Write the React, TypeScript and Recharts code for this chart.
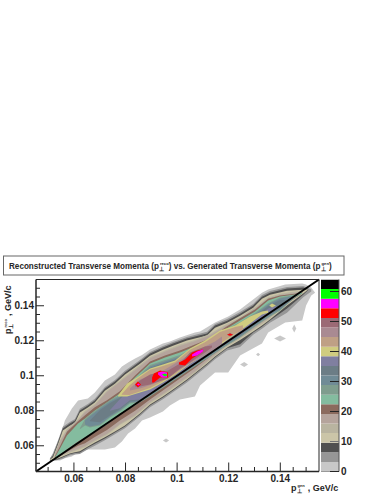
import React from "react";
import { ComposedChart, BarChart, Bar, Area, XAxis, YAxis, ReferenceLine } from "recharts";

type Row = [number, number, number];

const title = ["Reconstructed Transverse Momenta (p", "reco", ") vs. Generated Transverse Momenta (p", "gen", ")"];
const xTicks = [0.05, 0.055, 0.06, 0.065, 0.07, 0.075, 0.08, 0.085, 0.09, 0.095, 0.1, 0.105, 0.11, 0.115, 0.12, 0.125, 0.13, 0.135, 0.14, 0.145, 0.15];
const majorTicks = [0.06, 0.08, 0.1, 0.12, 0.14];
const zTicks = [0, 10, 20, 30, 40, 50, 60];
const palette = ["#c8c8c8", "#969696", "#505050", "#cbc5a8", "#b9b4a0", "#b5a49c", "#8b6b5e", "#84bc9f", "#7f9d8e", "#708b96", "#6c7d86", "#807fa0", "#d0cc80", "#bfa085", "#a98a92", "#9b6a75", "#ff0000", "#ff00ff", "#00ff00", "#000000"];
const zCell = 3.2;

// each row: generated pT, lower reconstructed pT, upper reconstructed pT
const level0: Row[] = [[0.0507,0.0516,0.0522],[0.0526,0.0516,0.0585],[0.0546,0.0516,0.0653],[0.0565,0.0528,0.0745],[0.0592,0.0539,0.0813],[0.0616,0.0562,0.0859],[0.0654,0.0579,0.087],[0.0681,0.0579,0.0904],[0.072,0.0579,0.0973],[0.0759,0.059,0.1007],[0.0786,0.0625,0.1053],[0.081,0.067,0.1076],[0.0837,0.0699,0.1099],[0.0864,0.0745,0.1118],[0.0895,0.0762,0.115],[0.0945,0.0796,0.1184],[0.0972,0.083,0.1196],[0.1011,0.0864,0.1219],[0.1069,0.0882,0.1247],[0.1089,0.0944,0.1253],[0.1147,0.1019,0.1304],[0.1198,0.1019,0.1338],[0.1244,0.1116,0.1378],[0.1329,0.1184,0.1475],[0.1353,0.1247,0.1493],[0.1419,0.1304,0.1521],[0.1485,0.1316,0.1527],[0.15,0.1401,0.1521],[0.152,0.1458,0.1504],[0.1535,0.1475,0.1475]];
const island0a: Row[] = [[0.0945,0.063,0.063],[0.0957,0.0618,0.0642],[0.0969,0.063,0.063]];
const island0b: Row[] = [[0.1244,0.1064,0.1064],[0.126,0.105,0.1078],[0.1275,0.1064,0.1064]];
const island0c: Row[] = [[0.1306,0.1121,0.1121],[0.1314,0.1111,0.1131],[0.1322,0.1121,0.1121]];
const island0d: Row[] = [[0.1376,0.1213,0.1213],[0.1399,0.1196,0.123],[0.1422,0.1213,0.1213]];
const island0e: Row[] = [[0.1446,0.127,0.127],[0.1454,0.1247,0.1293],[0.1462,0.127,0.127]];
const level1: Row[] = [[0.0507,0.0511,0.0528],[0.0519,0.0515,0.0554],[0.0538,0.0518,0.0628],[0.0557,0.0526,0.0708],[0.0584,0.0544,0.0736],[0.0604,0.055,0.0753],[0.0623,0.0553,0.0811],[0.0654,0.058,0.0839],[0.0681,0.06,0.0868],[0.072,0.0632,0.0936],[0.0759,0.0666,0.0976],[0.0798,0.07,0.1028],[0.0856,0.0768,0.109],[0.0895,0.082,0.1136],[0.0945,0.0866,0.117],[0.0984,0.0906,0.1193],[0.1038,0.0962,0.1222],[0.1116,0.1055,0.1251],[0.1147,0.1095,0.1296],[0.1194,0.1145,0.1324],[0.1244,0.1165,0.1364],[0.1295,0.1235,0.141],[0.1329,0.1268,0.1461],[0.136,0.1303,0.1484],[0.1426,0.136,0.1507],[0.1489,0.1448,0.1513],[0.152,0.1482,0.1495]];
const level2: Row[] = [[0.0507,0.0514,0.0522],[0.0519,0.0519,0.0545],[0.0538,0.0523,0.0619],[0.0557,0.0534,0.0699],[0.0584,0.0551,0.0727],[0.0604,0.0558,0.0744],[0.0623,0.0562,0.0802],[0.0654,0.059,0.083],[0.0681,0.0612,0.0859],[0.072,0.0642,0.0927],[0.0759,0.0676,0.0967],[0.0798,0.071,0.1019],[0.0856,0.0779,0.1081],[0.0895,0.083,0.1127],[0.0945,0.0876,0.1161],[0.0984,0.0916,0.1184],[0.1038,0.0973,0.1213],[0.1116,0.1064,0.1242],[0.1147,0.1104,0.1287],[0.1194,0.1157,0.1315],[0.1244,0.118,0.1355],[0.1295,0.1247,0.1401],[0.1329,0.128,0.1452],[0.136,0.1316,0.1475],[0.1426,0.1385,0.1498],[0.1489,0.1463,0.1504],[0.1508,0.149,0.1496]];
const level3: Row[] = [[0.0507,0.0516,0.052],[0.0519,0.0522,0.0535],[0.0538,0.0527,0.0607],[0.0557,0.0539,0.0687],[0.0584,0.0556,0.0715],[0.0604,0.0563,0.0732],[0.0623,0.0568,0.079],[0.0654,0.0596,0.0818],[0.0681,0.0619,0.0847],[0.072,0.0648,0.0915],[0.0759,0.0682,0.0955],[0.0798,0.0716,0.1007],[0.0856,0.0785,0.1069],[0.0895,0.0836,0.1115],[0.0945,0.0882,0.1149],[0.0984,0.0922,0.1172],[0.1038,0.0979,0.1201],[0.1116,0.107,0.123],[0.1147,0.111,0.1275],[0.1194,0.1162,0.1303],[0.1244,0.1205,0.1343],[0.1295,0.1253,0.1389],[0.1329,0.1287,0.144],[0.136,0.1322,0.1463],[0.1426,0.1402,0.1486],[0.1489,0.147,0.1492],[0.1508,0.1493,0.1494]];
const level4: Row[] = [[0.0526,0.0525,0.0556],[0.0546,0.0538,0.0631],[0.0573,0.0555,0.0695],[0.0616,0.0577,0.0752],[0.0643,0.0592,0.08],[0.0681,0.0626,0.0839],[0.0728,0.0661,0.0915],[0.0778,0.0718,0.0972],[0.0837,0.0769,0.104],[0.0895,0.0843,0.1107],[0.0953,0.0897,0.1145],[0.1011,0.0957,0.1178],[0.1069,0.1017,0.1205],[0.1128,0.1092,0.124],[0.1186,0.116,0.129],[0.1244,0.1212,0.1335],[0.1302,0.1268,0.1392],[0.1353,0.132,0.1449],[0.1399,0.1376,0.1469],[0.1457,0.1442,0.1481],[0.1485,0.1468,0.1484]];
const level5: Row[] = [[0.0526,0.0526,0.0548],[0.0546,0.0543,0.0623],[0.0573,0.0562,0.0687],[0.0616,0.0584,0.0744],[0.0643,0.0599,0.0792],[0.0681,0.0633,0.0831],[0.0728,0.0668,0.0907],[0.0778,0.0725,0.0964],[0.0837,0.0776,0.1032],[0.0895,0.085,0.1099],[0.0953,0.0904,0.1137],[0.1011,0.0964,0.117],[0.1069,0.1024,0.1197],[0.1128,0.1099,0.1232],[0.1186,0.1166,0.1282],[0.1244,0.1218,0.1327],[0.1302,0.1275,0.1384],[0.1353,0.1327,0.1441],[0.1399,0.1382,0.1461],[0.1457,0.1444,0.1473],[0.1485,0.1469,0.1476]];
const level6: Row[] = [[0.0526,0.0527,0.0538],[0.0546,0.0542,0.0597],[0.0573,0.0566,0.068],[0.0616,0.06,0.074],[0.0643,0.0615,0.0775],[0.0681,0.065,0.082],[0.0728,0.069,0.086],[0.0778,0.0745,0.0911],[0.0837,0.08,0.1002],[0.0895,0.0865,0.1082],[0.0953,0.0925,0.1116],[0.1011,0.0985,0.1145],[0.1069,0.1045,0.1179],[0.1128,0.111,0.1213],[0.1186,0.117,0.1276],[0.1244,0.1222,0.1328],[0.1302,0.1284,0.1379],[0.1353,0.1335,0.144],[0.1399,0.1386,0.1458],[0.1457,0.1445,0.1469],[0.1485,0.147,0.1477]];
const level7: Row[] = [[0.0526,0.0528,0.0533],[0.0546,0.0545,0.0585],[0.0573,0.0579,0.0659],[0.0616,0.0625,0.0727],[0.0643,0.0648,0.0756],[0.0681,0.0682,0.0802],[0.0728,0.0722,0.0847],[0.0778,0.0785,0.0899],[0.0837,0.083,0.099],[0.0895,0.0893,0.107],[0.0953,0.095,0.1104],[0.1011,0.1007,0.1133],[0.1069,0.1064,0.1167],[0.1128,0.1121,0.1201],[0.1186,0.1179,0.1264],[0.1244,0.123,0.1316],[0.1302,0.1293,0.1367],[0.1353,0.1344,0.143],[0.1399,0.139,0.1453],[0.1457,0.1447,0.1464],[0.1485,0.147,0.1476]];
const level8: Row[] = [[0.0623,0.0695,0.07],[0.0643,0.0716,0.0753],[0.0662,0.0704,0.0776],[0.0701,0.0716,0.0821],[0.074,0.0761,0.0861],[0.0778,0.0796,0.089],[0.0817,0.0841,0.0953],[0.0856,0.0847,0.1004],[0.0895,0.0881,0.1061],[0.0953,0.0938,0.109],[0.1011,0.0996,0.1118],[0.1069,0.1053,0.1164],[0.1128,0.111,0.1198],[0.1186,0.1167,0.1261],[0.1244,0.1218,0.1306],[0.1302,0.1281,0.1358],[0.1353,0.1332,0.1415],[0.1399,0.1372,0.1447],[0.1457,0.1449,0.1461],[0.147,0.1462,0.1463]];
const level9: Row[] = [[0.0643,0.0722,0.0745],[0.0662,0.071,0.0768],[0.0701,0.0722,0.0813],[0.074,0.0767,0.0853],[0.0778,0.0802,0.0882],[0.0817,0.0847,0.0945],[0.0856,0.0853,0.0996],[0.0895,0.0887,0.1053],[0.0953,0.0944,0.1082],[0.1011,0.1002,0.111],[0.1069,0.1059,0.1156],[0.1128,0.1116,0.119],[0.1186,0.1173,0.1253],[0.1244,0.1224,0.1298],[0.1302,0.1287,0.135],[0.1353,0.1338,0.1407],[0.1399,0.1378,0.1441],[0.1457,0.1452,0.1458]];
const level10: Row[] = [[0.0662,0.074,0.0745],[0.0701,0.0735,0.0805],[0.074,0.0773,0.0845],[0.0778,0.0808,0.0874],[0.0817,0.0853,0.0937],[0.0856,0.0859,0.0988],[0.0895,0.0893,0.1045],[0.0953,0.095,0.1074],[0.1011,0.1008,0.1102],[0.1069,0.1065,0.1148],[0.1128,0.1122,0.1182],[0.1186,0.1179,0.1245],[0.1244,0.123,0.129],[0.1302,0.1293,0.1342],[0.1353,0.1344,0.1399],[0.1399,0.1384,0.1433],[0.144,0.143,0.1432]];
const level11: Row[] = [[0.074,0.08,0.0805],[0.0778,0.0815,0.0866],[0.0817,0.086,0.0925],[0.0856,0.0865,0.0978],[0.0895,0.0899,0.1035],[0.0953,0.0956,0.1064],[0.1011,0.1014,0.1092],[0.1069,0.1071,0.1138],[0.1128,0.1128,0.1172],[0.1186,0.1185,0.1235],[0.1244,0.1236,0.128],[0.1302,0.13,0.1332],[0.1353,0.135,0.1385],[0.1385,0.1385,0.14]];
const level12: Row[] = [[0.0771,0.0882,0.0887],[0.0806,0.0882,0.0956],[0.0844,0.0899,0.099],[0.0895,0.0922,0.1042],[0.0945,0.0962,0.1064],[0.0992,0.1004,0.1087],[0.105,0.1068,0.1156],[0.1108,0.1118,0.1201],[0.1166,0.1175,0.1258],[0.1225,0.1236,0.1287],[0.1283,0.1299,0.1338],[0.1329,0.135,0.1367],[0.1353,0.136,0.1373]];
const island12: Row[] = [[0.1357,0.1401,0.1401],[0.1368,0.139,0.1413],[0.1383,0.1401,0.1401]];
const level13: Row[] = [[0.0785,0.0892,0.0895],[0.0815,0.089,0.0945],[0.0844,0.0905,0.0982],[0.0895,0.093,0.1034],[0.0945,0.0968,0.1056],[0.0992,0.101,0.1079],[0.105,0.1074,0.1148],[0.1108,0.1124,0.1192],[0.1166,0.1183,0.125],[0.1225,0.124,0.1278],[0.1255,0.1262,0.1288]];
const level14: Row[] = [[0.0817,0.0916,0.0927],[0.0856,0.0927,0.0979],[0.0903,0.095,0.1007],[0.0953,0.0984,0.1036],[0.1011,0.1036,0.1087],[0.1069,0.1087,0.1139],[0.1108,0.1116,0.1167],[0.1147,0.115,0.1196],[0.1174,0.1184,0.1224]];
const level15: Row[] = [[0.0837,0.0939,0.095],[0.0856,0.0939,0.0973],[0.0895,0.095,0.1007],[0.0965,0.0984,0.103],[0.1011,0.1041,0.107],[0.105,0.1076,0.1133],[0.1108,0.1133,0.1167],[0.1135,0.1162,0.1173]];
const spot15: Row[] = [[0.1194,0.1235,0.1235],[0.1205,0.1224,0.1246],[0.1217,0.1235,0.1235]];
const redA: Row[] = [[0.0837,0.095,0.095],[0.0848,0.0933,0.0967],[0.086,0.095,0.095]];
const redB: Row[] = [[0.0903,0.0962,0.099],[0.091,0.0962,0.1013],[0.0934,0.099,0.103],[0.0965,0.099,0.1019]];
const redC: Row[] = [[0.1007,0.1064,0.1076],[0.1031,0.1059,0.1093],[0.1058,0.1099,0.1133],[0.1077,0.1116,0.1144],[0.11,0.1139,0.115]];
const redD: Row[] = [[0.1194,0.1235,0.1235],[0.1205,0.1228,0.1242],[0.1217,0.1235,0.1235]];
const magentaA: Row[] = [[0.0844,0.095,0.095],[0.085,0.0944,0.0956],[0.0856,0.095,0.095]];
const magentaB: Row[] = [[0.0926,0.1007,0.1019],[0.0941,0.099,0.1024],[0.0961,0.099,0.1019]];
const magentaC: Row[] = [[0.1058,0.111,0.1121],[0.1077,0.1116,0.1139],[0.11,0.1139,0.115]];
const greenB: Row[] = [[0.0941,0.1007,0.1007],[0.0953,0.0996,0.1013],[0.0961,0.1002,0.1007]];

const bands: [Row[], number][] = [
  [level0, 0], [island0a, 0], [island0b, 0], [island0c, 0], [island0d, 0], [island0e, 0],
  [level1, 1], [level2, 2], [level3, 3], [level4, 4], [level5, 5], [level6, 6], [level7, 7],
  [level8, 8], [level9, 9], [level10, 10], [level11, 11], [level12, 12], [island12, 12],
  [level13, 13], [level14, 14], [level15, 15], [spot15, 15],
  [redA, 16], [redB, 16], [redC, 16], [redD, 16],
  [magentaA, 17], [magentaB, 17], [magentaC, 17], [greenB, 18],
];

const axisMin = 0.0453;
const axisMax = 0.155;
const ink = "#262626";
const font = "'Liberation Sans', Arial, sans-serif";

const XTick = (p: any) => {
  const major = majorTicks.includes(p.payload.value);
  return (
    <g>
      <line x1={p.x} x2={p.x} y1={471.5} y2={major ? 462.5 : 467} stroke={ink} strokeWidth={1} />
      {major && <text x={p.x} y={482} textAnchor="middle" fontSize={10} fontWeight={700} fontFamily={font} fill={ink}>{String(p.payload.value)}</text>}
    </g>
  );
};
const YTick = (p: any) => {
  const major = majorTicks.includes(p.payload.value);
  return (
    <g>
      <line x1={36} x2={major ? 44 : 40} y1={p.y} y2={p.y} stroke={ink} strokeWidth={1} />
      {major && <text x={34} y={p.y + 3.5} textAnchor="end" fontSize={10} fontWeight={700} fontFamily={font} fill={ink}>{String(p.payload.value)}</text>}
    </g>
  );
};
const ZTick = (p: any) => (
  <g>
    <line x1={9} x2={18} y1={p.y} y2={p.y} stroke={p.payload.value === 10 ? "#777" : ink} strokeWidth={1} />
    <text x={20} y={p.y + 3.5} fontSize={10} fontWeight={700} fontFamily={font} fill={ink}>{p.payload.value}</text>
  </g>
);

const zRow = [{ name: "z", ...Object.fromEntries(palette.map((_, i) => [`c${i}`, zCell])) }];

export default function App() {
  return (
    <div style={{ position: "absolute", left: 0, top: 0, width: 383, height: 496, background: "#fff" }}>
      <div style={{ position: "absolute", left: 0, top: 0 }}>
        <ComposedChart width={383} height={496} margin={{ top: 279.5, right: 64, bottom: 23.5, left: 0 }} data={level3.map((r) => ({ x: r[0] }))}>
          <XAxis dataKey="x" type="number" domain={[axisMin, axisMax]} allowDataOverflow ticks={xTicks} interval={0} height={1} tickSize={0} tickLine={false} tick={XTick} axisLine={{ stroke: ink, strokeWidth: 1.5 }} />
          <YAxis type="number" domain={[axisMin, axisMax]} allowDataOverflow ticks={xTicks} interval={0} width={36} tickSize={0} tickLine={false} tick={YTick} axisLine={{ stroke: ink, strokeWidth: 1.5 }} />
          {bands.map(([rows, c], i) => (
            <Area key={i} data={rows.map((r) => ({ x: r[0], r: [r[1], r[2]] }))} dataKey="r" type="linear" fill={palette[c]} fillOpacity={1} stroke="none" dot={false} activeDot={false} isAnimationActive={false} />
          ))}
          <ReferenceLine segment={[{ x: axisMin, y: axisMin }, { x: axisMax, y: axisMax }]} stroke="#000" strokeWidth={2} />
          <ReferenceLine y={axisMax} stroke={ink} strokeWidth={1} />
          <ReferenceLine x={axisMax} stroke={ink} strokeWidth={1} />
        </ComposedChart>
      </div>
      <div style={{ position: "absolute", left: 321, top: 0 }}>
        <BarChart width={62} height={496} margin={{ top: 279.5, right: 0, bottom: 23.5, left: 0 }} data={zRow} barCategoryGap={0} barGap={0}>
          <XAxis dataKey="name" type="category" height={1} tick={false} tickLine={false} axisLine={{ stroke: "#999" }} />
          {palette.map((c, i) => (
            <Bar key={c} dataKey={`c${i}`} stackId="z" fill={c} isAnimationActive={false} />
          ))}
          <YAxis orientation="right" type="number" domain={[0, 64]} allowDataOverflow ticks={zTicks} interval={0} width={44} tickSize={0} tickLine={false} tick={ZTick} axisLine={{ stroke: "#555" }} />
        </BarChart>
      </div>
      <svg width={383} height={496} style={{ position: "absolute", left: 0, top: 0, pointerEvents: "none" }} fontFamily={font} fontWeight={700} fill={ink}>
        <rect x={3.5} y={256} width={340.5} height={19} fill="#fff" stroke="#666" />
        <text x={9} y={268.5} fontSize={8.15}>
          {title[0]}
          <tspan dy={2} fontSize={6}>⊥</tspan>
          <tspan dx={-4} dy={-6} fontSize={4.2}>{title[1]}</tspan>
          <tspan dy={4}>{title[2]}</tspan>
          <tspan dy={2} fontSize={6}>⊥</tspan>
          <tspan dx={-4} dy={-6} fontSize={4.2}>{title[3]}</tspan>
          <tspan dy={4}>{title[4]}</tspan>
        </text>
        <text x={291} y={491} fontSize={9}>
          p<tspan dy={2} fontSize={6}>⊥</tspan>
          <tspan dx={-4} dy={-6} fontSize={4}>gen</tspan>
          <tspan dy={4} dx={3}>, GeV/c</tspan>
        </text>
        <text transform="translate(10.5,334) rotate(-90)" fontSize={9}>
          p<tspan dy={2} fontSize={6}>⊥</tspan>
          <tspan dx={-4} dy={-6} fontSize={4}>reco</tspan>
          <tspan dy={4} dx={3}>, GeV/c</tspan>
        </text>
      </svg>
    </div>
  );
}
